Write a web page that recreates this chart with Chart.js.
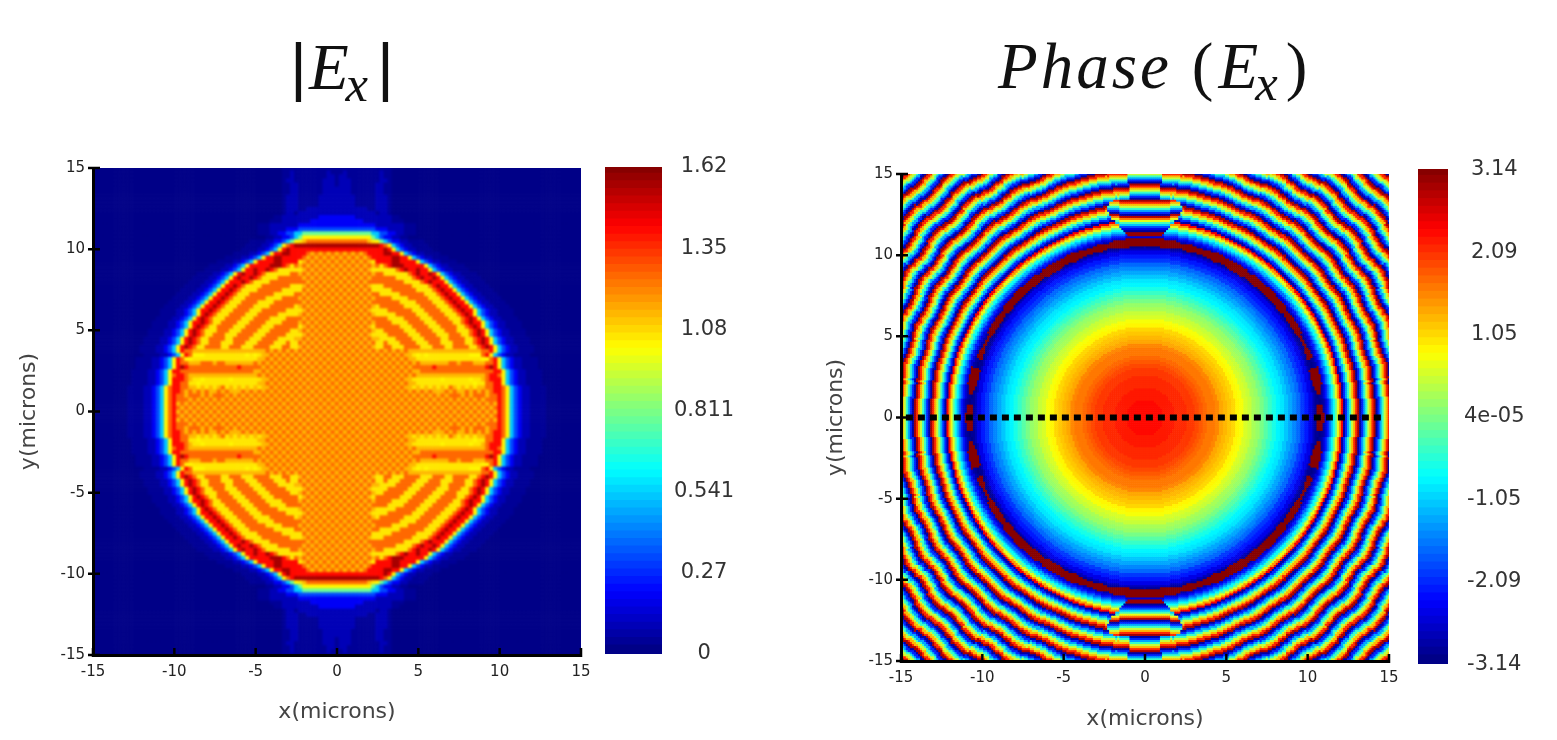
<!DOCTYPE html>
<html>
<head>
<meta charset="utf-8">
<title>Ex field magnitude and phase</title>
<script src="https://cdn.jsdelivr.net/npm/chart.js@4"></script>
<style>
  html, body { margin: 0; padding: 0; background: #fff; width: 1557px; height: 740px; overflow: hidden; }
  canvas { position: absolute; }
  .heading { position: absolute; font-family: "Liberation Serif", serif; color: #111; white-space: nowrap; line-height: 1; }
  .heading i { font-style: italic; }
  .heading sub { font-size: 0.78em; font-style: italic; vertical-align: baseline; position: relative; top: 0.24em; line-height: 0; }
</style>
</head>
<body>
<div class="heading" style="left:290px;top:34px;font-size:65px;"><span style="font-family:'Liberation Sans';">|</span><i style="margin-left:2px;">E</i><sub style="margin-left:-3px;">x</sub><span style="font-family:'Liberation Sans';margin-left:9px;">|</span></div>
<div class="heading" style="left:998px;top:34px;font-size:65px;"><i style="letter-spacing:3px;">Phase</i><span style="margin-left:20px;">(</span><i style="margin-left:5px;">E</i><sub style="margin-left:-3px;">x</sub><span style="margin-left:8px;">)</span></div>
<canvas id="ampCells" width="600" height="610" style="left:0;top:130px;filter:blur(1px);clip-path:inset(38px 19px 85px 93px);"></canvas>
<canvas id="ampPlot" width="600" height="610" style="left:0;top:130px;"></canvas>
<canvas id="ampBar" width="150" height="520" style="left:600px;top:150px;"></canvas>
<canvas id="phaseCells" width="610" height="610" style="left:800px;top:130px;filter:blur(0.6px);clip-path:inset(44px 21px 79px 101px);"></canvas>
<canvas id="phasePlot" width="610" height="610" style="left:800px;top:130px;"></canvas>
<canvas id="phaseBar" width="157" height="530" style="left:1400px;top:150px;"></canvas>
<script>
// Colour bar ticks
const ampTickValues = [0, 0.27, 0.541, 0.811, 1.08, 1.35, 1.62];
const ampTickLabels = ['0', '0.27', '0.541', '0.811', '1.08', '1.35', '1.62'];
const phaseTickValues = [-3.14, -2.09, -1.05, 0.00004, 1.05, 2.09, 3.14];
const phaseTickLabels = ['-3.14', '-2.09', '-1.05', '4e-05', '1.05', '2.09', '3.14'];
const axisTicks = [-15, -10, -5, 0, 5, 10, 15];

// |Ex| values for each hex digit used in ampRows
const ampLevels = [0.02, 0.05, 0.1, 0.18, 0.32, 0.53, 0.78, 1.02, 1.06, 1.12, 1.25, 1.41, 1.56];

// |Ex| on a 0.25 micron grid, one quadrant: row = y/0.25, column = x/0.25
const ampRows = [
  'a9a9a9a9a9a9a9a9a9a9a9a9a9a9a9a9a9a9a9a9ba7543221111',
  '9a9a9a9a9a9a9a9a9a9a9a9a9a9a9a9a9a9a9a9aba7543221111',
  'a9a9a9a9a9a9a9a9a9a9a9a9a9a9a9a9a9a9a9a9ba7543221111',
  '9a9a9a9a9a9a9a9a9a9a9a9a9a9a9a9a9a9a9aaaba7543221111',
  'a9a9a9a9a9a9a9a9a9a9a9a9a9a9aaa9a9aaa9aaba7543221111',
  '9a9a9a9a9a9a9a9a9a9a9a9a999a9a99a9a9a9abba7543221111',
  'a9a9a9a9a9a9a9a9a99898989898a98989899aabba7543221111',
  '9a9a9a9a9a9a9a9a9a9988888888888888788aabb7543221111',
  'a9a9a9a9a9a9a9a9a99888888878888887889abbb7543221111',
  '9a9a9a9a9a9a9a9a9a9a99999999999999999abba7543221111',
  'a9a9a9a9a9a9a9a9a9a99aaaaaaaaaaaaaaaaaabb7543221111',
  '9a9a9a9a9a9a9a9a9a9aaaaabaaaaaaaaaaaabcb7543221111',
  'a9a9a9a9a9a9a9a9a9a9a9999999aa9aaa999aab7543221111',
  '9a9a9a9a9a9a9a9a9a99888888888888888877ab7543221111',
  'a9a9a9a9a9a9a9a9a9987878888888888777ab7543221111',
  '9a9a9a9a9a9a9a9a9a999999999999999999aab7543221111',
  'a9a9a9a9a988aa888aaaa888aaa88aaaa88abcb7543221111',
  '9a9a9a9a9a88a888aaaa888aaa888aaa88abcb7543221111',
  'a9a9a9a9a998888aaaa888aaaa88aaaa88abcb7543221111',
  '9a9a9a9a98888aaaaa888aaaa888aaa88abcb7543221111',
  'a9a9a9a9a988aaaaa888aaaa888aaa888abcb7543221111',
  '9a9a9a9a98aaaaaa888aaaa888aaaa88abcb7543221111',
  'a9a9a9a9a9aaaa8888aaaa888aaaa88abcbb7543221111',
  '9a9a9a9a9aaaa8888aaaa888aaaa888abcb7543221111',
  'a9a9a9a9a988888aaaaa888aaaa888abcb7543221111',
  '9a9a9a9a98888aaaaaa888aaaa888abcbb7543221111',
  'a9a9a9a9a98aaaaaa8888aaaa888abcbb7543221111',
  '9a9a9a9a9aaaaaaa8888aaaa888abcbb7543221111',
  'a9a9a9a9a9aaaa8888aaaaa888abcbb7543221111',
  '9a9a9a9a9aa88888aaaaaa888abcbb7543221111',
  'a9a9a9a9a88888aaaaaa8888abcbb7543221111',
  '9a9a9a9a9888aaaaaaa8888abcbb7543221111',
  'a9a9a9a9aaaaaaaaa8888abcbbb7543221111',
  '9a9a9a9a9aaaaaa8888abcbbcb7543221111',
  'a9a9a9a9a9aa888888abcbbcb7543221111',
  '9a9a9a9a9888888abcbbcbb7543221111',
  'a9a9a9a9a9a8abcccbbbbb7543221111',
  '9a9a9a9a98bbbbccbbbb7543221111',
  'a9a9a9a9abbbbbccbb7543221111',
  '9a9a9a9abbbbccbb7543221111',
  'bbbbbbbbbbbbcb7543221111',
  'cccccccccccba7543221111',
  'aaaaaaaa98765433221111',
  '777777777654332211',
  '66666666655443322111',
  '44444444443332222111',
  '33333333332222222111',
  '33333332222222111',
  '3333322222222211',
  '22222222221221',
  '22222222112221',
  '22222111112221',
  '22222111112221',
  '22222111112221',
  '22221111112211',
  '22221111112211',
  '12221111112211',
  '12221111111221',
  '12211111111211',
  '11211111111211',
  '11111111111111'
];

// Phase along the radius inside the disk, one sample every 0.25 micron from the centre
const corePhase = [
  2.29, 2.29, 2.28, 2.27, 2.26, 2.24, 2.22, 2.19, 2.15, 2.12, 2.07,
  2.02, 1.97, 1.90, 1.82, 1.75, 1.66, 1.57, 1.48, 1.37, 1.26,
  1.13, 1.00, 0.85, 0.72, 0.58, 0.44, 0.28, 0.13, -0.06, -0.25,
  -0.44, -0.63, -0.82, -0.97, -1.13, -1.32, -1.51, -1.73, -1.98, -2.23, -2.51, -2.76
];

// Phase along the radius outside the disk, one sample every 0.125 micron from r = 10.625
const ringPhase = [
  -3.0, -3.05, -3.0, -2.85, -2.6, -2.2, -1.7, -1.2, -0.7, -0.1, 0.6, 1.4, 2.4,
  -2.9, -2.1, -1.3, -0.45, 0.4, 1.25, 2.1, 2.9,
  -2.9, -2.1, -1.3, -0.45, 0.4, 1.25, 2.1, 2.9,
  -2.9, -2.1, -1.3, -0.45, 0.4, 1.25, 2.1, 2.9,
  -2.9, -2.1, -1.3, -0.45, 0.4, 1.25, 2.1, 2.9,
  -2.9, -2.1, -1.3, -0.45, 0.4, 1.25, 2.1, 2.9,
  -2.9, -2.1, -1.3, -0.45, 0.4, 1.25, 2.1, 2.9,
  -2.9, -2.1, -1.3, -0.45, 0.4, 1.25, 2.1, 2.9,
  -2.9, -2.1, -1.3, -0.45, 0.4, 1.25, 2.1, 2.9,
  -2.9, -2.1, -1.3, -0.45, 0.4, 1.25, 2.1, 2.9,
  -2.9, -2.1, -1.3, -0.45, 0.4, 1.25, 2.1, 2.9
];

// Radial displacement of the outer fringes, one sample every 2 degrees from the x axis
const ringShift = [
  0.02, 0.10, 0.05, -0.08, -0.10, 0.04, 0.14, 0.04, -0.10, -0.12,
  0.06, 0.14, 0.02, -0.12, -0.08, 0.08, 0.14, 0.00, -0.13, -0.06,
  0.10, 0.12, -0.02, -0.12, -0.04, 0.10, 0.12, -0.04, -0.12, -0.02,
  0.10, 0.10, -0.06, -0.12, 0.00, 0.12, 0.16, 0.10, 0.18, 0.22,
  0.26, 0.20, 0.10, 0.02, 0.00, 0.00
];

// Half thickness of the wrapped rim at r = 10.8, one sample every 3 degrees
const rimHalf = [
  0.24, 0.18, 0.0, 0.16, 0.30, 0.28, 0.0, 0.18, 0.10, 0.08, 0.18,
  0.20, 0.16, 0.24, 0.22, 0.26, 0.21, 0.26, 0.20, 0.29, 0.28,
  0.22, 0.28, 0.22, 0.18, 0.24, 0.18, 0.24, 0.26, 0.26, 0.26
];

// Fringes of the cap above and below the disk, one row every 0.125 micron from y = 11.25
const lensPhase = [
  3.0, 3.0, -3.0, -2.5, -1.9, -1.1, -0.3, 0.6, 1.6, 2.8,
  -2.9, -2.1, -1.3, -0.45, 0.4, 1.25, 2.1, 2.9,
  -2.9, -2.1, -1.3, -0.45, 0.4, 1.25, 2.1, 2.9,
  -2.9, -2.1, -1.3, -0.45, 0.4
];
const lensHalfWidth = [
  1.0, 1.2, 1.3, 1.4, 1.5, 1.6, 1.75, 1.85, 2.0, 2.1,
  2.15, 2.2, 2.25, 2.25, 2.25, 2.2, 2.15, 1.95,
  0.9, 0.9, 0.9, 0.9, 0.9, 0.9, 0.95, 0.95,
  1.0, 1.0, 1.0, 1.0, 1.0
];
// Upward bow of those fringes towards the cap's edge, one sample every 0.25 micron in x
const lensBow = [0, 0, 0, 0.01, 0.02, 0.04, 0.06, 0.08, 0.10, 0.13, 0.16];

// 64-step jet colour map
const jetStops = [[0, 0, 0, 0.5], [0.125, 0, 0, 1], [0.375, 0, 1, 1], [0.625, 1, 1, 0], [0.875, 1, 0, 0], [1, 0.5, 0, 0]];
const colourSteps = 64;
const jetTable = [];
for (let k = 0; k < colourSteps; k++) {
  const t = (k + 0.5) / colourSteps;
  let s = 0;
  while (s < jetStops.length - 2 && t > jetStops[s + 1][0]) s++;
  const a = jetStops[s], b = jetStops[s + 1], f = (t - a[0]) / (b[0] - a[0]);
  const ch = c => Math.round(255 * (a[c] + (b[c] - a[c]) * f));
  jetTable.push(`rgb(${ch(1)},${ch(2)},${ch(3)})`);
}
const jetColour = t => jetTable[Math.max(0, Math.min(colourSteps - 1, Math.floor(t * colourSteps)))];

// Expand the amplitude quadrant over all four quadrants
const ampCells = [], ampColours = [];
for (let j = -60; j <= 60; j++) {
  const row = ampRows[Math.abs(j)].padEnd(61, '0');
  for (let i = -60; i <= 60; i++) {
    const v = ampLevels[parseInt(row[Math.abs(i)], 16)];
    ampCells.push({ x: i * 0.25, y: j * 0.25 });
    ampColours.push(jetColour(v / 1.62));
  }
}

// Look a phase cell up in the radial tables
function phaseLookup(x, y) {
  const ax = Math.abs(x), ay = Math.abs(y), r = Math.hypot(x, y);
  const deg = Math.atan2(ay, ax) * 180 / Math.PI;
  if (ay >= 11.25) {
    const row = Math.round((ay - 11.25) / 0.125);
    if (ax <= lensHalfWidth[row]) {
      const bow = lensBow[Math.min(lensBow.length - 1, Math.round(ax / 0.25))];
      return lensPhase[Math.max(0, Math.round((ay - bow - 11.25) / 0.125))];
    }
  }
  if (Math.abs(r - 10.8) <= rimHalf[Math.round(deg / 3)]) return 3.14;
  if (r <= 10.5) return corePhase[Math.round(r / 0.25)];
  const reach = Math.max(0, Math.min(0.8, (r - 12) / 6));
  const idx = Math.round((r - ringShift[Math.round(deg / 2)] * reach - 10.625) / 0.125);
  return ringPhase[Math.max(0, Math.min(ringPhase.length - 1, idx))];
}
const phaseCells = [], phaseColours = [];
for (let j = -120; j <= 120; j++) {
  for (let i = -120; i <= 120; i++) {
    const x = i * 0.125, y = j * 0.125;
    phaseCells.push({ x, y });
    phaseColours.push(jetColour((phaseLookup(x, y) + 3.14) / 6.28));
  }
}

// Short black tick marks crossing the thick axis lines
const tickMarks = {
  id: 'tickMarks',
  afterDatasetsDraw(chart) {
    const { ctx, chartArea: a, scales } = chart;
    ctx.save();
    ctx.strokeStyle = '#000';
    ctx.lineWidth = 2.5;
    ctx.beginPath();
    scales.y.ticks.forEach(t => {
      const p = scales.y.getPixelForValue(t.value);
      ctx.moveTo(a.left - 5, p); ctx.lineTo(a.left + 7, p);
    });
    scales.x.ticks.forEach(t => {
      const p = scales.x.getPixelForValue(t.value);
      ctx.moveTo(p, a.bottom - 7); ctx.lineTo(p, a.bottom + 2);
    });
    ctx.stroke();
    ctx.restore();
  }
};

// The colour cells sit on their own canvas so they can be softened without touching the axes
function cellChart(id, cells, colours, cellMicrons, frame) {
  const pxPerMicron = 488 / 30;
  const radius = (cellMicrons * pxPerMicron / 2 + 0.3) * Math.SQRT2;
  return new Chart(document.getElementById(id), {
    type: 'scatter',
    data: {
      datasets: [{
        data: cells,
        pointStyle: 'rect',
        pointRadius: radius,
        pointBorderWidth: 0,
        pointBackgroundColor: colours,
        showLine: false,
        clip: false
      }]
    },
    options: {
      responsive: false,
      animation: false,
      events: [],
      parsing: false,
      normalized: true,
      layout: { padding: { top: frame.top, right: frame.right, left: frame.yWidth, bottom: frame.xHeight } },
      plugins: { legend: { display: false }, tooltip: { enabled: false } },
      scales: {
        x: { type: 'linear', min: -15, max: 15, display: false },
        y: { type: 'linear', min: -15, max: 15, display: false }
      }
    }
  });
}

function frameChart(id, frame, datasets) {
  const axis = (title, titlePadding) => ({
    type: 'linear', min: -15, max: 15,
    afterBuildTicks: s => { s.ticks = axisTicks.map(value => ({ value })); },
    grid: { display: false, drawTicks: false },
    border: { display: true, color: '#000', width: 3 },
    ticks: { color: '#222', font: { family: 'DejaVu Sans', size: 15 }, padding: 8, autoSkip: false, maxRotation: 0 },
    title: { display: true, text: title, color: '#444', font: { family: 'DejaVu Sans', size: 22 }, padding: titlePadding }
  });
  const xAxis = axis('x(microns)', { top: 0, bottom: frame.xTitle });
  const yAxis = axis('y(microns)', { top: frame.yTitle, bottom: 0 });
  xAxis.afterFit = s => { s.height = frame.xHeight; };
  yAxis.afterFit = s => { s.width = frame.yWidth; };
  return new Chart(document.getElementById(id), {
    type: 'scatter',
    data: { datasets },
    options: {
      responsive: false,
      animation: false,
      events: [],
      layout: { padding: { top: frame.top, right: frame.right, left: 0, bottom: 0 } },
      plugins: { legend: { display: false }, tooltip: { enabled: false } },
      scales: { x: xAxis, y: yAxis }
    },
    plugins: [tickMarks]
  });
}

function colourBar(id, min, max, tickValues, tickLabels, frame) {
  const step = (max - min) / colourSteps;
  const datasets = jetTable.map((c, k) => ({
    data: [[min + k * step, Math.min(max, min + (k + 1.2) * step)]],
    backgroundColor: c,
    borderWidth: 0,
    grouped: false,
    barPercentage: 1,
    categoryPercentage: 1
  }));
  return new Chart(document.getElementById(id), {
    type: 'bar',
    data: { labels: [''], datasets },
    options: {
      responsive: false,
      animation: false,
      events: [],
      layout: { padding: { top: frame.top, bottom: frame.bottom, left: frame.left, right: 0 } },
      plugins: { legend: { display: false }, tooltip: { enabled: false } },
      scales: {
        x: { display: false },
        y: {
          position: 'right', min, max,
          afterBuildTicks: s => { s.ticks = tickValues.map(value => ({ value })); },
          afterFit: s => { s.width = frame.axisWidth; s.paddingTop = 0; s.paddingBottom = 0; },
          grid: { display: false, drawTicks: false },
          border: { display: false },
          ticks: {
            color: '#333', font: { family: 'DejaVu Sans', size: 21 },
            crossAlign: 'center', padding: frame.padding, autoSkip: false, labelOffset: frame.labelOffset,
            callback: (v, i) => tickLabels[i]
          }
        }
      }
    }
  });
}

const ampFrame = { top: 38, right: 19, yWidth: 93, xHeight: 85, xTitle: 15, yTitle: 16 };
const phaseFrame = { top: 44, right: 21, yWidth: 101, xHeight: 79, xTitle: 8, yTitle: 23 };

cellChart('ampCells', ampCells, ampColours, 0.25, ampFrame);
frameChart('ampPlot', ampFrame, []);
cellChart('phaseCells', phaseCells, phaseColours, 0.125, phaseFrame);
frameChart('phasePlot', phaseFrame, [{
  data: [{ x: -14.7, y: 0 }, { x: 14.7, y: 0 }],
  showLine: true, borderColor: '#000', borderWidth: 6, borderDash: [7, 5],
  pointRadius: 0, fill: false
}]);
colourBar('ampBar', 0, 1.62, ampTickValues, ampTickLabels,
  { top: 17, bottom: 16, left: 5, axisWidth: 88, padding: 12, labelOffset: 0 });
colourBar('phaseBar', -3.14, 3.14, phaseTickValues, phaseTickLabels,
  { top: 19, bottom: 16, left: 18, axisWidth: 109, padding: 16, labelOffset: 0.5 });
</script>
</body>
</html>
